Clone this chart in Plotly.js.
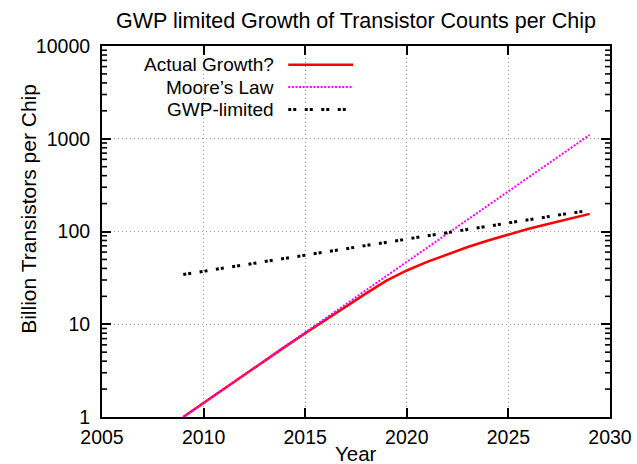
<!DOCTYPE html>
<html>
<head>
<meta charset="utf-8">
<script src="https://cdn.plot.ly/plotly-3.0.1.min.js"></script>
<style>html,body{margin:0;padding:0;background:#fff;}#chart{width:637px;height:464px;}</style>
</head>
<body>
<div id="chart"></div>
<script>
const years = [2009,2010,2011,2012,2013,2014,2015,2016,2017,2018,2019,2020,2021,2022,2023,2024,2025,2026,2027,2028,2029];
const actualGrowth = [1,1.42,2.0,2.85,4.0,5.7,8.0,11.2,15.5,21.5,29.5,38,47,57,68,80,93,107,121,137,155];
const mooresLaw = [1,1.42,2.01,2.86,4.06,5.76,8.2,11.6,16.5,23.4,33.2,47,67,95,135,191,272,385,547,776,1100];
const gwpLimited = [34.4,37.3,40.4,43.7,47.4,51.3,55.6,60.2,65.2,70.6,76.5,82.8,89.7,97.2,105,114,124,134,145,157,169];
const seriesNames = ["Actual Growth?","Moore\u2019s Law","GWP-limited"];
const xTickVals = [2005,2010,2015,2020,2025,2030];
const yTickVals = [1,10,100,1000,10000];
const yTickText = ["1","10","100","1000","10000"];
const yMinorVals = [2,3,4,5,6,7,8,9,20,30,40,50,60,70,80,90,200,300,400,500,600,700,800,900,2000,3000,4000,5000,6000,7000,8000,9000];

const FONT = "Liberation Sans, Arial, Helvetica, sans-serif";
const W = 637, H = 464;
const L = 101.6, R = 610, T = 45.6, B = 416.7;
const pw = R - L, ph = B - T;
const px = x => (x - L) / pw;
const py = y => (B - y) / ph;

const styles = [
  {color:"#ff0000", width:2.5, dash:"solid"},
  {color:"#ff00ff", width:2, dash:"2px,1.6px"},
  {color:"#000000", width:3, dash:"3px,2px,3px,8.5px"}
];
const ys = [actualGrowth, mooresLaw, gwpLimited];

const traces = ys.map((y,i)=>({
  x: years, y: y, type:"scatter", mode:"lines", name: seriesNames[i],
  line: styles[i], showlegend:false, hoverinfo:"skip"
}));

const legendRows = [64.3, 86.7, 109];
const annotations = [];
const shapes = [];
seriesNames.forEach((n,i)=>{
  annotations.push({xref:"paper", yref:"paper", x:px(276), y:py(legendRows[i]),
    xanchor:"right", yanchor:"middle", text:n, showarrow:false,
    font:{family:FONT, size:19, color:"#000"}});
  shapes.push({type:"line", xref:"paper", yref:"paper",
    x0:px(288), x1:px(353), y0:py(legendRows[i]), y1:py(legendRows[i]),
    line:{color:styles[i].color, width:styles[i].width, dash:styles[i].dash}});
});
// minor tick marks on the left axis and its mirror on the right
const minorLen = 5 / pw;
yMinorVals.forEach(v=>{
  shapes.push({type:"line", xref:"paper", yref:"y", x0:0, x1:minorLen, y0:v, y1:v,
    line:{color:"#000", width:1.6}, layer:"above"});
  shapes.push({type:"line", xref:"paper", yref:"y", x0:1-minorLen, x1:1, y0:v, y1:v,
    line:{color:"#000", width:1.6}, layer:"above"});
});
annotations.push({xref:"paper", yref:"paper", x:px(28), y:py(208), xanchor:"center", yanchor:"middle",
  text:"Billion Transistors per Chip", textangle:-90, showarrow:false,
  font:{family:FONT, size:21, color:"#000"}});
annotations.push({xref:"paper", yref:"paper", x:0.5, y:py(453), xanchor:"center", yanchor:"middle",
  text:"Year", showarrow:false, font:{family:FONT, size:20.5, color:"#000"}});

const gridStyle = {showgrid:true, gridcolor:"#a0a0a0", griddash:"1px,3px", gridwidth:1};

const layout = {
  width:W, height:H,
  margin:{l:L, r:W-R, t:T, b:H-B, pad:0},
  paper_bgcolor:"#fff", plot_bgcolor:"#fff",
  font:{family:FONT, size:19, color:"#000"},
  title:{text:"GWP limited Growth of Transistor Counts per Chip", x:0.5, xref:"paper",
    y:1-20/H, yref:"container", yanchor:"middle", font:{family:FONT, size:21.5, color:"#000"}},
  xaxis:Object.assign({range:[2005,2030], tickvals:xTickVals, ticks:"inside", ticklen:9, tickwidth:2,
    tickcolor:"#000", showline:true, linecolor:"#000", linewidth:2, mirror:"ticks",
    zeroline:false, tickfont:{family:FONT, size:19.5}, ticklabelstandoff:2}, gridStyle),
  yaxis:Object.assign({type:"log", range:[0,4], tickvals:yTickVals, ticktext:yTickText, ticks:"inside", ticklen:9,
    tickwidth:2, tickcolor:"#000", showline:true, linecolor:"#000", linewidth:2, mirror:"ticks",
    zeroline:false, tickfont:{family:FONT, size:19.5}, ticklabelstandoff:6}, gridStyle),
  annotations:annotations, shapes:shapes, showlegend:false
};
Plotly.newPlot("chart", traces, layout, {displayModeBar:false, staticPlot:true});
</script>
</body>
</html>
